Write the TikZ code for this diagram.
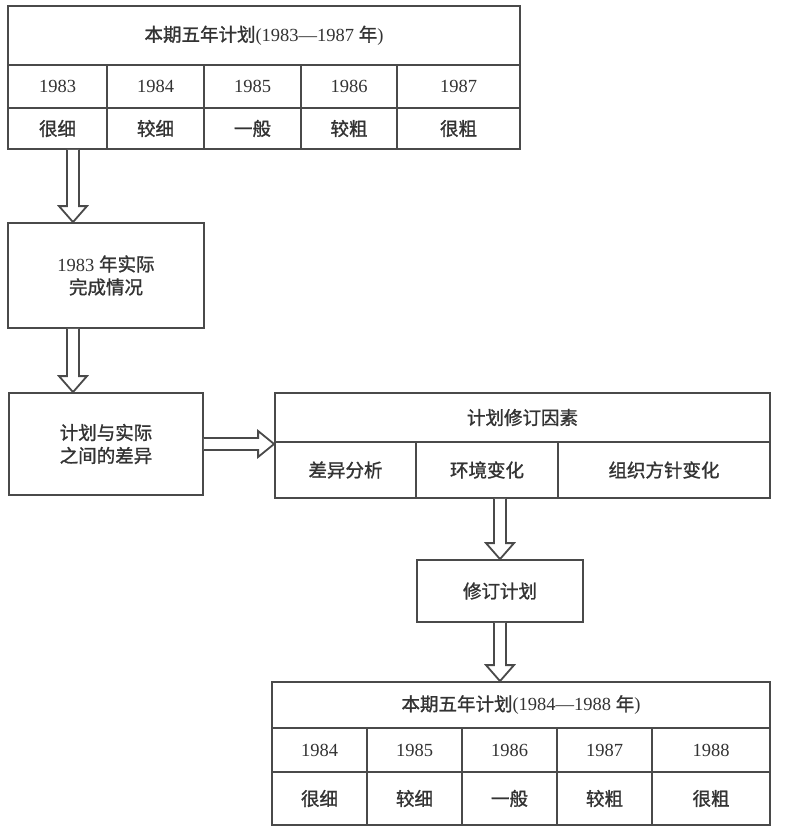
\documentclass[tikz,border=0pt]{standalone}
\usepackage{fontspec}
\setmainfont{Liberation Serif}
\newfontfamily\cjk[FakeBold=1.2]{Noto Sans CJK SC}
\usetikzlibrary{calc}
\definecolor{lineC}{HTML}{4A4A4A}
\definecolor{txtC}{HTML}{333333}
\tikzset{
  cell/.style={draw=lineC, line width=1.8pt, inner sep=0pt, text=txtC,
    font=\fontsize{18.5}{23}\selectfont, align=center},
  harrow/.style={draw=lineC, line width=1.8pt, fill=white, line join=miter},
}
\newcommand\harrowV[2]{\draw[harrow] let \p1=(#1), \p2=(#2) in
  (\x1-6pt,\y1) -- (\x1-6pt,\y2+16pt) -- (\x1-14pt,\y2+16pt) -- (\x1,\y2)
  -- (\x1+14pt,\y2+16pt) -- (\x1+6pt,\y2+16pt) -- (\x1+6pt,\y1);}
\newcommand\harrowH[2]{\draw[harrow] let \p1=(#1), \p2=(#2) in
  (\x1,\y1+6pt) -- (\x2-16pt,\y1+6pt) -- (\x2-16pt,\y1+13pt) -- (\x2,\y1)
  -- (\x2-16pt,\y1-13pt) -- (\x2-16pt,\y1-6pt) -- (\x1,\y1-6pt);}
\begin{document}
\begin{tikzpicture}[x=1pt,y=-1pt]
\useasboundingbox[fill=white] (0,0) rectangle (788,830);

% top table 1983-1987
\node[cell, minimum width=512, minimum height=59] (h1) at (264,35.5)
  {{\cjk 本期五年计划}(1983—1987 {\cjk 年})};
\node[cell, minimum width=99, minimum height=43] (y11) at (57.5,86.5) {1983};
\node[cell, minimum width=97, minimum height=43] (y12) at (155.5,86.5) {1984};
\node[cell, minimum width=97, minimum height=43] (y13) at (252.5,86.5) {1985};
\node[cell, minimum width=96, minimum height=43] (y14) at (349,86.5) {1986};
\node[cell, minimum width=123, minimum height=43] (y15) at (458.5,86.5) {1987};
\node[cell, minimum width=99, minimum height=41] (d11) at (57.5,128.5) {\cjk 很细};
\node[cell, minimum width=97, minimum height=41] (d12) at (155.5,128.5) {\cjk 较细};
\node[cell, minimum width=97, minimum height=41] (d13) at (252.5,128.5) {\cjk 一般};
\node[cell, minimum width=96, minimum height=41] (d14) at (349,128.5) {\cjk 较粗};
\node[cell, minimum width=123, minimum height=41] (d15) at (458.5,128.5) {\cjk 很粗};

% left boxes
\node[cell, minimum width=196, minimum height=105] (b1) at (106,275.5)
  {1983 {\cjk 年实际}\\{\cjk 完成情况}};
\node[cell, minimum width=194, minimum height=102] (b2) at (106,444)
  {\cjk 计划与实际\\\cjk 之间的差异};

% revision factors
\node[cell, minimum width=495, minimum height=49] (fh) at (522.5,417.5) {\cjk 计划修订因素};
\node[cell, minimum width=141, minimum height=56] (f1) at (345.5,470) {\cjk 差异分析};
\node[cell, minimum width=142, minimum height=56] (f2) at (487,470) {\cjk 环境变化};
\node[cell, minimum width=212, minimum height=56] (f3) at (664,470) {\cjk 组织方针变化};

% revised plan
\node[cell, minimum width=166, minimum height=62] (rv) at (500,591) {\cjk 修订计划};

% bottom table 1984-1988
\node[cell, minimum width=498, minimum height=46] (h2) at (521,705)
  {{\cjk 本期五年计划}(1984—1988 {\cjk 年})};
\node[cell, minimum width=95, minimum height=44] (y21) at (319.5,750) {1984};
\node[cell, minimum width=95, minimum height=44] (y22) at (414.5,750) {1985};
\node[cell, minimum width=95, minimum height=44] (y23) at (509.5,750) {1986};
\node[cell, minimum width=95, minimum height=44] (y24) at (604.5,750) {1987};
\node[cell, minimum width=118, minimum height=44] (y25) at (711,750) {1988};
\node[cell, minimum width=95, minimum height=53] (d21) at (319.5,798.5) {\cjk 很细};
\node[cell, minimum width=95, minimum height=53] (d22) at (414.5,798.5) {\cjk 较细};
\node[cell, minimum width=95, minimum height=53] (d23) at (509.5,798.5) {\cjk 一般};
\node[cell, minimum width=95, minimum height=53] (d24) at (604.5,798.5) {\cjk 较粗};
\node[cell, minimum width=118, minimum height=53] (d25) at (711,798.5) {\cjk 很粗};

% arrows
\coordinate (ax) at (73,0);
\harrowV{d11.south -| ax}{b1.north -| ax}
\harrowV{b1.south -| ax}{b2.north -| ax}
\harrowH{b2.east}{fh.south west |- b2.east}
\harrowV{f2.south -| rv.north}{rv.north}
\harrowV{rv.south}{h2.north -| rv.south}
\end{tikzpicture}
\end{document}
